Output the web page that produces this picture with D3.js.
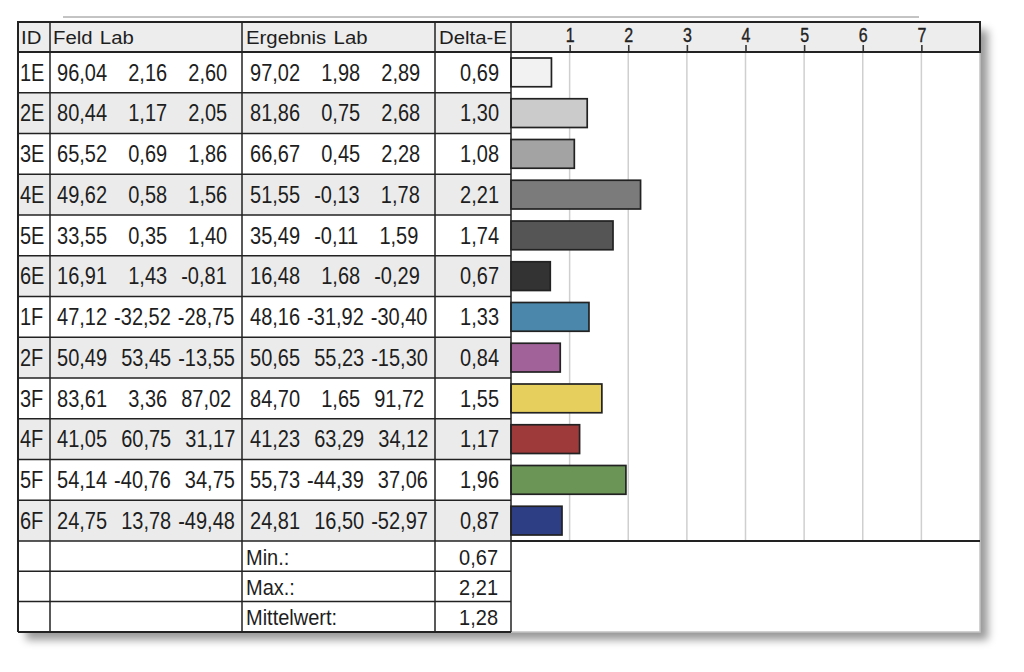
<!DOCTYPE html>
<html>
<head>
<meta charset="utf-8">
<script src="https://cdn.jsdelivr.net/npm/d3@7"></script>
<style>
  body { margin: 0; background: #fff; }
  svg { display: block; font-family: "Liberation Sans", Arial, sans-serif; }
  .cell { fill: #1e1e1e; white-space: pre; word-spacing: 1.5px; }
  .axis text { fill: #222; font-family: "Liberation Sans", Arial, sans-serif; }
  .axis path { display: none; }
  .axis line { stroke: #333; stroke-width: 1.6; }
</style>
</head>
<body>
<script>
// chart data
var ids = ["1E", "2E", "3E", "4E", "5E", "6E", "1F", "2F", "3F", "4F", "5F", "6F"];
var feldL = [96.04, 80.44, 65.52, 49.62, 33.55, 16.91, 47.12, 50.49, 83.61, 41.05, 54.14, 24.75];
var feldA = [2.16, 1.17, 0.69, 0.58, 0.35, 1.43, -32.52, 53.45, 3.36, 60.75, -40.76, 13.78];
var feldB = [2.60, 2.05, 1.86, 1.56, 1.40, -0.81, -28.75, -13.55, 87.02, 31.17, 34.75, -49.48];
var ergL = [97.02, 81.86, 66.67, 51.55, 35.49, 16.48, 48.16, 50.65, 84.70, 41.23, 55.73, 24.81];
var ergA = [1.98, 0.75, 0.45, -0.13, -0.11, 1.68, -31.92, 55.23, 1.65, 63.29, -44.39, 16.50];
var ergB = [2.89, 2.68, 2.28, 1.78, 1.59, -0.29, -30.40, -15.30, 91.72, 34.12, 37.06, -52.97];
var deltaE = [0.69, 1.30, 1.08, 2.21, 1.74, 0.67, 1.33, 0.84, 1.55, 1.17, 1.96, 0.87];
var barColors = ["#f2f2f2", "#cbcbcb", "#a3a3a3", "#7b7b7b", "#555555", "#333333",
                 "#4a87aa", "#a1629a", "#e6cf5c", "#9e3a3a", "#6b9556", "#2d3e85"];
var headers = ["ID", "Feld Lab", "Ergebnis Lab", "Delta-E"];
var summaryLabels = ["Min.:", "Max.:", "Mittelwert:"];
var summaryValues = [0.67, 2.21, 1.28];
var tickValues = [1, 2, 3, 4, 5, 6, 7];

var width = 1024, height = 672;
var tLeft = 18, tRight = 980, tTop = 22;
var headH = 30, sumH = 30.3;
var colX = [18, 50, 242, 435, 511];   // column borders
var dark = "#222";

var fmt = function (v) { return v.toFixed(2).replace(".", ","); };
var lab = function (a, b, c) {
  return [a, b, c].map(function (v) { return fmt(v).padStart(6); }).join(" ");
};

var svg = d3.select("body").append("svg")
  .attr("width", width).attr("height", height);

var defs = svg.append("defs");
defs.append("filter").attr("id", "shadow")
  .attr("x", "-5%").attr("y", "-5%").attr("width", "115%").attr("height", "115%")
  .append("feDropShadow")
  .attr("dx", 8).attr("dy", 8).attr("stdDeviation", 4.5)
  .attr("flood-color", "#000").attr("flood-opacity", 0.4);

var rowTop = tTop + headH;
var rowBottom = 541;
var y = d3.scaleBand().domain(ids).range([rowTop, rowBottom]);
var tBottom = rowBottom + summaryLabels.length * sumH;
var x = d3.scaleLinear().domain([0, 8]).range([colX[4], tRight]);

// thin line above
svg.append("line")
  .attr("x1", 63).attr("x2", 919).attr("y1", 17).attr("y2", 17)
  .attr("stroke", "#888").attr("stroke-width", 1);

// table base with shadow
svg.append("rect")
  .attr("x", tLeft).attr("y", tTop).attr("width", tRight - tLeft).attr("height", tBottom - tTop)
  .attr("fill", "#fff").attr("filter", "url(#shadow)");

// header band
svg.append("rect")
  .attr("x", tLeft).attr("y", tTop).attr("width", tRight - tLeft).attr("height", headH)
  .attr("fill", "#ededed");

// alternate row shading
svg.append("g").selectAll("rect")
  .data(ids.filter(function (d, i) { return i % 2 === 1; }))
  .join("rect")
  .attr("x", tLeft).attr("y", function (d) { return y(d); })
  .attr("width", colX[4] - tLeft).attr("height", y.bandwidth())
  .attr("fill", "#ebebeb");

// grid lines in bar area
svg.append("g").selectAll("line")
  .data(tickValues).join("line")
  .attr("x1", function (d) { return x(d); }).attr("x2", function (d) { return x(d); })
  .attr("y1", rowTop).attr("y2", rowBottom)
  .attr("stroke", "#cfcfcf").attr("stroke-width", 1.5);

// axis in the header
var axis = svg.append("g").attr("class", "axis")
  .attr("transform", "translate(0," + rowTop + ")")
  .call(d3.axisTop(x).tickValues(tickValues).tickSize(7).tickPadding(1.5).tickFormat(d3.format("d")));
axis.selectAll("text").attr("font-size", 16)
  .attr("stroke", "#222").attr("stroke-width", 0.3)
  .attr("transform", "scale(1,1.22)");

// bars
svg.append("g").selectAll("rect")
  .data(deltaE).join("rect")
  .attr("x", x(0))
  .attr("y", function (d, i) { return y(ids[i]) + 6; })
  .attr("width", function (d) { return x(d) - x(0); })
  .attr("height", y.bandwidth() - 12)
  .attr("fill", function (d, i) { return barColors[i]; })
  .attr("stroke", dark).attr("stroke-width", 1.7);

// light outer edges of the bar area
svg.append("path")
  .attr("d", "M" + tRight + "," + rowTop + "V" + tBottom + "H" + colX[4])
  .attr("fill", "none").attr("stroke", "#c4c4c4").attr("stroke-width", 1.5);

// table lines
var lines = svg.append("g").attr("stroke", dark).attr("stroke-width", 1.5).attr("fill", "none");
lines.append("rect").attr("x", tLeft).attr("y", tTop)
  .attr("width", tRight - tLeft).attr("height", headH).attr("stroke-width", 2);
colX.forEach(function (cx) {
  lines.append("line").attr("x1", cx).attr("x2", cx).attr("y1", tTop).attr("y2", tBottom);
});
lines.append("line").attr("x1", tLeft).attr("x2", tLeft).attr("y1", tTop).attr("y2", tBottom).attr("stroke-width", 2);
ids.forEach(function (d) {
  lines.append("line").attr("x1", tLeft).attr("x2", colX[4])
    .attr("y1", y(d) + y.bandwidth()).attr("y2", y(d) + y.bandwidth());
});
lines.append("line").attr("x1", colX[4]).attr("x2", tRight).attr("y1", rowBottom).attr("y2", rowBottom).attr("stroke-width", 2);
summaryLabels.forEach(function (d, i) {
  var yy = rowBottom + (i + 1) * sumH;
  lines.append("line").attr("x1", tLeft).attr("x2", colX[4]).attr("y1", yy).attr("y2", yy)
    .attr("stroke-width", i === summaryLabels.length - 1 ? 2 : 1.5);
});

// text helper
function txt(g, s, tx, ty, size, sx, sy, anchor) {
  return g.append("text").attr("class", "cell")
    .attr("xml:space", "preserve")
    .attr("font-size", size)
    .attr("text-anchor", anchor || "start")
    .attr("transform", "translate(" + tx + "," + ty + ") scale(" + sx + "," + sy + ")")
    .text(s);
}

var texts = svg.append("g");
var headX = [21, 53, 246, 439];
headers.forEach(function (h, i) { txt(texts, h, headX[i], 43.5, 18.5, 1.1, 1); });

ids.forEach(function (d, i) {
  var by = y(d) + y.bandwidth() / 2 + 8.3;
  txt(texts, d, 20, by, 20, 1, 1.16);
  txt(texts, lab(feldL[i], feldA[i], feldB[i]), 50, by, 20, 1, 1.16);
  txt(texts, lab(ergL[i], ergA[i], ergB[i]), 243, by, 20, 1, 1.16);
  txt(texts, fmt(deltaE[i]), 499, by, 20, 1, 1.16, "end");
});

summaryLabels.forEach(function (s, i) {
  var by = rowBottom + i * sumH + 23.5;
  txt(texts, s, 246, by, 20, 1, 1.08);
  txt(texts, fmt(summaryValues[i]), 498, by, 20, 1, 1.08, "end");
});
</script>
</body>
</html>
